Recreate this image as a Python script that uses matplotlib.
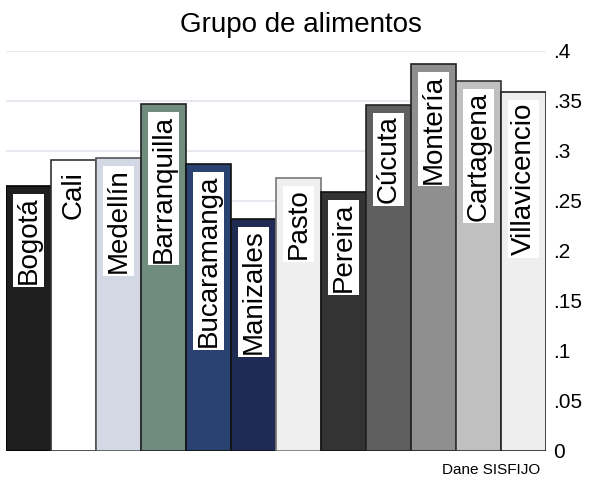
import matplotlib
matplotlib.use("Agg")
import matplotlib.pyplot as plt
from matplotlib.ticker import FixedLocator, FixedFormatter

plt.rcParams['font.family'] = ['Liberation Sans', 'DejaVu Sans']

cities = ["Bogotá", "Cali", "Medellín", "Barranquilla", "Bucaramanga", "Manizales",
          "Pasto", "Pereira", "Cúcuta", "Montería", "Cartagena", "Villavicencio"]
values = [0.265, 0.291, 0.293, 0.347, 0.287, 0.232,
          0.273, 0.259, 0.346, 0.387, 0.370, 0.359]
colors = ["#1f1f1f", "#ffffff", "#d2d9e4", "#6f8c7f", "#2a4270", "#1f2b52",
          "#efefef", "#333333", "#5f5f5f", "#8f8f8f", "#c0c0c0", "#eeeeee"]
edges = ["#000000", "#333333", "#555555", "#222222", "#111111", "#111111",
         "#777777", "#111111", "#222222", "#222222", "#333333", "#222222"]
yticks = [0, 0.05, 0.1, 0.15, 0.2, 0.25, 0.3, 0.35, 0.4]
yticklabels = ["0", ".05", ".1", ".15", ".2", ".25", ".3", ".35", ".4"]

fig = plt.figure(figsize=(5.95, 4.8), dpi=100)
ax = fig.add_axes([6/595, 1-451/480, 540/595, (451-50.5)/480])

x = list(range(len(cities)))
ax.bar(x, values, width=1.0, color=colors, edgecolor=edges, linewidth=1.2, zorder=2)

for i, (name, v) in enumerate(zip(cities, values)):
    ax.annotate(name, xy=(i, v), xytext=(0, -11), textcoords='offset pixels',
                rotation=90, ha='center', va='top', fontsize=20, color='black',
                bbox=dict(boxstyle='square,pad=0.1', fc='white', ec='none'), zorder=3)

ax.set_xlim(-0.5, len(cities) - 0.5)
ax.set_ylim(0, 0.4)
ax.yaxis.tick_right()
ax.yaxis.set_major_locator(FixedLocator(yticks))
ax.yaxis.set_major_formatter(FixedFormatter(yticklabels))
ax.tick_params(axis='y', length=0, pad=5, labelsize=15)
ax.set_xticks([])
for s in ax.spines.values():
    s.set_visible(False)
ax.grid(axis='y', color='#e4e4ee', linewidth=1.2, zorder=0)
ax.set_axisbelow(True)

fig.text(0.506, 1 - 25/480, "Grupo de alimentos", ha='center', va='center', fontsize=20)
fig.text(540/595, 1 - 470/480, "Dane SISFIJO", ha='right', va='center', fontsize=11)

fig.savefig("out.png", dpi=100)
